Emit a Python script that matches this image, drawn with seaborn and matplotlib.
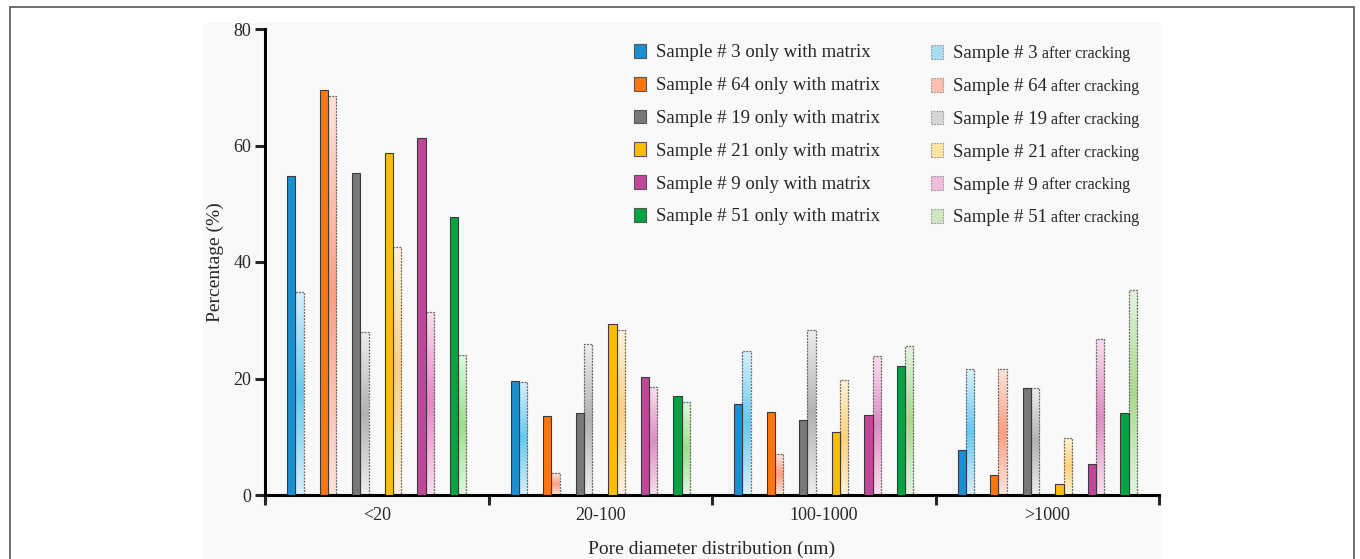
import matplotlib
matplotlib.use("Agg")
import matplotlib.pyplot as plt
from matplotlib.patches import Patch, Rectangle
from matplotlib.colors import LinearSegmentedColormap
import seaborn as sns
import pandas as pd
import numpy as np

categories = ["<20", "20-100", "100-1000", ">1000"]
samples = ["3", "64", "19", "21", "9", "51"]

matrix_3 = [54.8, 19.5, 15.6, 7.8]
matrix_64 = [69.6, 13.6, 14.3, 3.4]
matrix_19 = [55.3, 14.0, 12.9, 18.4]
matrix_21 = [58.7, 29.3, 10.8, 1.9]
matrix_9 = [61.3, 20.2, 13.8, 5.4]
matrix_51 = [47.7, 17.0, 22.1, 14.0]

crack_3 = [34.9, 19.4, 24.8, 21.6]
crack_64 = [68.5, 3.7, 7.0, 21.7]
crack_19 = [27.9, 25.9, 28.4, 18.3]
crack_21 = [42.5, 28.3, 19.7, 9.7]
crack_9 = [31.5, 18.6, 23.9, 26.8]
crack_51 = [24.0, 15.9, 25.5, 35.2]

matrix_vals = [matrix_3, matrix_64, matrix_19, matrix_21, matrix_9, matrix_51]
crack_vals = [crack_3, crack_64, crack_19, crack_21, crack_9, crack_51]

matrix_colors = ["#1a8fd1", "#ff760f", "#787878", "#ffbd00", "#c1479b", "#00a443"]
crack_colors = ["#a9dcf3", "#ffc1ad", "#d6d6d6", "#ffe4a3", "#f1bbdc", "#cde8bf"]
crack_light = ["#d9f0fb", "#ffe3da", "#eeeeee", "#fff3d6", "#f9e0ee", "#e6f3df"]
crack_mid = ["#66c9f0", "#ff9f82", "#b2b2b2", "#ffd17a", "#dc8ec3", "#a9d98f"]

matrix_labels = [f"Sample # {s} only with matrix" for s in samples]
crack_labels = [f"Sample # {s} after cracking" for s in samples]

rows_m, rows_c = [], []
for lab, vals in zip(matrix_labels, matrix_vals):
    for c, v in zip(categories, vals):
        rows_m.append({"category": c, "series": lab, "value": v})
for lab, vals in zip(crack_labels, crack_vals):
    for c, v in zip(categories, vals):
        rows_c.append({"category": c, "series": lab, "value": v})
df_m = pd.DataFrame(rows_m)
df_c = pd.DataFrame(rows_c)

# hue order with spacer slots between sample pairs
hue_order = []
palette = {}
for i, s in enumerate(samples):
    hue_order += [matrix_labels[i], crack_labels[i]]
    palette[matrix_labels[i]] = matrix_colors[i]
    palette[crack_labels[i]] = crack_colors[i]
    if i < len(samples) - 1:
        for k in range(2):
            sp = f"_gap{i}_{k}"
            hue_order.append(sp)
            palette[sp] = "#ffffff"

sns.set_style("ticks")
plt.rcParams["font.family"] = ["Liberation Serif", "DejaVu Serif"]

fig = plt.figure(figsize=(13.6, 5.59), dpi=100)
fig.patch.set_facecolor("white")
W, H = 1360, 559
fig.patches.append(Rectangle((203 / W, 0), (1161 - 203) / W, (H - 23) / H,
                             transform=fig.transFigure, facecolor="#f9f9f9",
                             edgecolor="none", zorder=-10))
fig.patches.append(Rectangle((9.5 / W, -0.02), (1354 - 9.5) / W, (H - 6.5) / H + 0.02,
                             transform=fig.transFigure, facecolor="none",
                             edgecolor="#555555", linewidth=1.2, zorder=-5))

ax = fig.add_axes([265 / W, 1 - 495 / H, (1159 - 265) / W, (495 - 29) / H])
ax.set_facecolor("none")

sns.barplot(data=df_m, x="category", y="value", hue="series", order=categories,
            hue_order=hue_order, palette=palette, width=0.8, legend=False,
            saturation=1, edgecolor="#3a3a3a", linewidth=0.8, errorbar=None,
            ax=ax, zorder=3)
n_before = len(ax.patches)
sns.barplot(data=df_c, x="category", y="value", hue="series", order=categories,
            hue_order=hue_order, palette=palette, width=0.8, legend=False,
            saturation=1, edgecolor="#666666", linewidth=0.9,
            linestyle=(0, (1.5, 1.0)), errorbar=None, ax=ax, zorder=2)

# vertical gradient fill (light - strong - light) for the "after cracking" bars
crack_patches = ax.patches[n_before:]
grad = np.linspace(0, 1, 200)
grad = 1 - np.abs(grad - 0.5) * 2
grad = grad.reshape(-1, 1)
crack_hex = [matplotlib.colors.to_hex(c) for c in crack_colors]
for p in crack_patches:
    fc = matplotlib.colors.to_hex(p.get_facecolor(), keep_alpha=False)
    idx = crack_hex.index(fc)
    cmap = LinearSegmentedColormap.from_list("g", [crack_light[idx], crack_mid[idx]])
    x0, y0 = p.get_x(), p.get_y()
    w, h = p.get_width(), p.get_height()
    im = ax.imshow(grad, extent=[x0, x0 + w, y0, y0 + h], origin="lower",
                   aspect="auto", cmap=cmap, vmin=0, vmax=1, zorder=1.9,
                   interpolation="bilinear")
    im.set_clip_path(p)
    p.set_facecolor("none")

ax.set_xlim(-0.5, 3.5)
ax.set_ylim(0, 80)
ax.set_aspect("auto")
ax.set_yticks([0, 20, 40, 60, 80])
ax.set_xticks([-0.5, 0.5, 1.5, 2.5, 3.5], minor=True)
ax.tick_params(axis="x", which="major", length=0, pad=9, labelsize=13)
ax.tick_params(axis="x", which="minor", length=7, width=2.2, direction="out")
ax.tick_params(axis="y", which="major", length=7, width=2.2, direction="out",
               labelsize=13, pad=3)
for sp in ["top", "right"]:
    ax.spines[sp].set_visible(False)
for sp in ["left", "bottom"]:
    ax.spines[sp].set_linewidth(2.2)
    ax.spines[sp].set_color("black")

ax.set_xlabel("Pore diameter distribution (nm)", fontsize=14, labelpad=12)
ax.set_ylabel("Percentage (%)", fontsize=14, labelpad=7)

left_handles = [Patch(facecolor=c, edgecolor="#555555", linewidth=0.8) for c in matrix_colors]
right_handles = [Patch(facecolor=c, edgecolor="#999999", linewidth=0.8,
                       linestyle=(0, (1.5, 1.0))) for c in crack_colors]
right_short = [f"Sample # {s}" for s in samples]

leg1 = fig.legend(left_handles, matrix_labels, loc="upper left",
                  bbox_to_anchor=(634 / W, 1 - 44 / H), frameon=False,
                  fontsize=13.5, handlelength=0.62, handleheight=0.75,
                  handletextpad=0.55, labelspacing=0.82, borderpad=0, borderaxespad=0)
leg2 = fig.legend(right_handles, right_short, loc="upper left",
                  bbox_to_anchor=(931 / W, 1 - 45 / H), frameon=False,
                  fontsize=13.5, handlelength=0.62, handleheight=0.75,
                  handletextpad=0.55, labelspacing=0.82, borderpad=0, borderaxespad=0)

fig.canvas.draw()
renderer = fig.canvas.get_renderer()
fs_big = 13.5 * 100 / 72
for t in leg2.get_texts():
    bb = t.get_window_extent(renderer)
    base = bb.y0 + 0.215 * fs_big
    fig.text((bb.x1 + 4) / W, base / H, "after cracking", fontsize=11.5,
             va="baseline", ha="left")

fig.savefig("out.png", dpi=100)
